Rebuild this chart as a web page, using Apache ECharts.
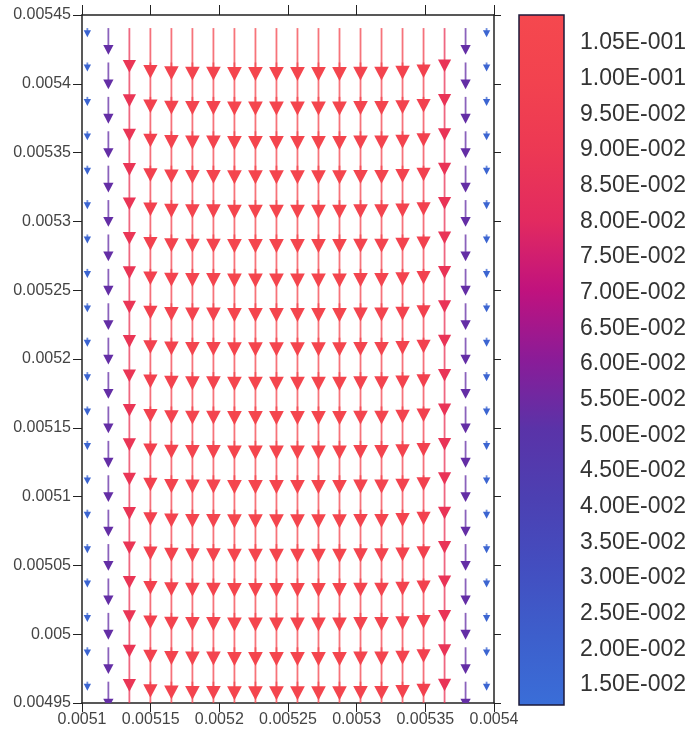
<!DOCTYPE html>
<html lang="en">
<head>
    <meta charset="UTF-8">
    <title>velocity vectors</title>
    <style>
        html, body { margin: 0; padding: 0; background: #fff; }
        #chart { width: 696px; height: 736px; }
    </style>
</head>
<body>
<div id="chart"></div>

<script src="https://cdn.jsdelivr.net/npm/echarts@6/dist/echarts.min.js"></script>
<script>
    // column positions (x) and row positions (arrow tails, y)
    var colX = [0.0051039, 0.0051192, 0.0051345, 0.0051498, 0.0051651, 0.0051804, 0.0051957, 0.0052110,
        0.0052263, 0.0052416, 0.0052569, 0.0052722, 0.0052875, 0.0053028, 0.0053181, 0.0053334,
        0.0053487, 0.0053640, 0.0053793, 0.0053946];
    var rowY = [0.0054405, 0.0054155, 0.0053905, 0.0053655, 0.0053405, 0.0053155, 0.0052905, 0.0052655,
        0.0052405, 0.0052155, 0.0051905, 0.0051655, 0.0051405, 0.0051155, 0.0050905, 0.0050655,
        0.0050405, 0.0050155, 0.0049905, 0.0049655];
    // velocity magnitude per column (flow is downward)
    var colMag = [0.018, 0.053, 0.088, 0.100, 0.103, 0.104, 0.104, 0.105, 0.105, 0.105,
        0.105, 0.105, 0.105, 0.104, 0.104, 0.102, 0.099, 0.087, 0.053, 0.018];

    // colour bar
    var cbMin = 0.0122, cbMax = 0.10893;
    var cbTicks = [0.015, 0.02, 0.025, 0.03, 0.035, 0.04, 0.045, 0.05, 0.055, 0.06,
        0.065, 0.07, 0.075, 0.08, 0.085, 0.09, 0.095, 0.1, 0.105];
    var cbColors = ['#3a6ed8', '#3d5fcc', '#434ec0', '#4c40b2', '#5a33a8', '#8a1c98',
        '#c0127e', '#e22a60', '#ec3854', '#f2424f', '#f5484e'];

    var arrowScale = 0.000367; // data units of y per unit of velocity

    var vecData = [];
    for (var r = 0; r < rowY.length; r++) {
        for (var c = 0; c < colX.length; c++) {
            vecData.push([colX[c], rowY[r], colMag[c]]);
        }
    }

    function sci(v) {
        var e = Math.floor(Math.log10(v) + 1e-9);
        var m = v / Math.pow(10, e);
        return m.toFixed(2) + 'E' + (e < 0 ? '-' : '+') + String(Math.abs(e)).padStart(3, '0');
    }
    function dec(v) {
        return String(parseFloat(v.toFixed(6)));
    }

    var font = "'Liberation Sans', Arial, sans-serif";
    var axisLine = {show: true, lineStyle: {color: '#222', width: 1.5}};

    var myChart = echarts.init(document.getElementById('chart'), null, {renderer: 'canvas'});

    var gradStops = cbColors.map(function (col, i) {
        return {offset: 1 - i / (cbColors.length - 1), color: col};
    });

    var option = {
        animation: false,
        backgroundColor: '#fff',
        grid: [
            {left: 82, top: 15, width: 412, height: 688},
            {left: 519, top: 15, width: 45, height: 690}
        ],
        xAxis: [
            {
                type: 'value', gridIndex: 0, position: 'bottom',
                min: 0.0051, max: 0.0054, interval: 0.00005,
                axisLine: axisLine,
                axisTick: {show: true, inside: false, length: 9, lineStyle: {color: '#222'}},
                axisLabel: {formatter: dec, fontSize: 16, color: '#444', fontFamily: font, margin: 9},
                splitLine: {show: false}
            },
            {
                type: 'value', gridIndex: 0, position: 'top',
                min: 0.0051, max: 0.0054, interval: 0.00005,
                axisLine: axisLine,
                axisTick: {show: true, inside: false, length: 10, lineStyle: {color: '#222'}},
                axisLabel: {show: false},
                splitLine: {show: false}
            },
            {
                type: 'value', gridIndex: 1, min: 0, max: 1, show: false
            }
        ],
        yAxis: [
            {
                type: 'value', gridIndex: 0, position: 'left',
                min: 0.00495, max: 0.00545, interval: 0.00005,
                axisLine: axisLine,
                axisTick: {show: true, inside: false, length: 9, lineStyle: {color: '#222'}},
                axisLabel: {formatter: dec, fontSize: 16, color: '#444', fontFamily: font, margin: 11},
                splitLine: {show: false}
            },
            {
                type: 'value', gridIndex: 0, position: 'right',
                min: 0.00495, max: 0.00545, interval: 0.00005,
                axisLine: axisLine,
                axisTick: {show: true, inside: false, length: 7, lineStyle: {color: '#222'}},
                axisLabel: {show: false},
                splitLine: {show: false}
            },
            {
                type: 'value', gridIndex: 1, position: 'right',
                min: cbMin, max: cbMax,
                axisLine: {show: false},
                axisTick: {show: true, inside: false, length: 11, customValues: cbTicks,
                    lineStyle: {color: '#333', width: 1.2}},
                axisLabel: {customValues: cbTicks, formatter: sci, fontSize: 23, color: '#333',
                    fontFamily: font, margin: 16},
                splitLine: {show: false}
            }
        ],
        visualMap: {
            type: 'continuous', show: false, seriesIndex: 0, dimension: 2,
            min: cbMin, max: cbMax,
            inRange: {color: cbColors}
        },
        series: [
            {
                type: 'custom',
                xAxisIndex: 0, yAxisIndex: 0,
                clip: true,
                data: vecData,
                renderItem: function (params, api) {
                    var x = api.value(0), y = api.value(1), m = api.value(2);
                    var tail = api.coord([x, y]);
                    var tip = api.coord([x, y - m * arrowScale]);
                    var len = tip[1] - tail[1];
                    var h = 5.5 + 0.16 * len;
                    var w = 1.05 * h;
                    var color = api.visual('color');
                    return {
                        type: 'group',
                        children: [
                            {
                                type: 'line',
                                shape: {x1: tail[0], y1: tail[1], x2: tip[0], y2: tip[1] - h * 0.8},
                                style: {stroke: color, lineWidth: 1.8, opacity: 0.75}
                            },
                            {
                                type: 'polygon',
                                shape: {points: [[tip[0], tip[1]], [tip[0] - w / 2, tip[1] - h], [tip[0] + w / 2, tip[1] - h]]},
                                style: {fill: color}
                            }
                        ]
                    };
                }
            },
            {
                type: 'custom',
                xAxisIndex: 2, yAxisIndex: 2,
                clip: false,
                silent: true,
                data: [[0, cbMin, 1, cbMax]],
                renderItem: function (params, api) {
                    var p0 = api.coord([api.value(0), api.value(3)]);
                    var p1 = api.coord([api.value(2), api.value(1)]);
                    return {
                        type: 'rect',
                        shape: {x: p0[0], y: p0[1], width: p1[0] - p0[0], height: p1[1] - p0[1]},
                        style: {
                            fill: {type: 'linear', x: 0, y: 0, x2: 0, y2: 1, colorStops: gradStops},
                            stroke: '#1d1a3a', lineWidth: 1.5
                        }
                    };
                }
            }
        ]
    };

    myChart.setOption(option);
</script>

</body>
</html>
